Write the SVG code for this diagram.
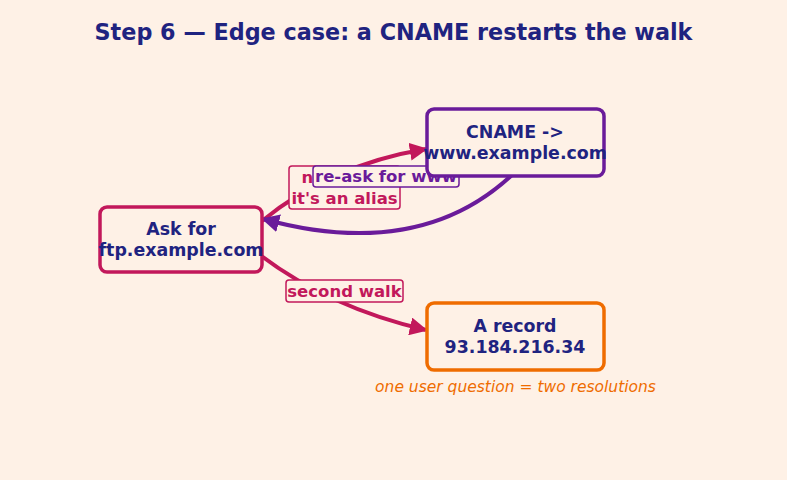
<svg xmlns="http://www.w3.org/2000/svg" width="787" height="480" viewBox="0 0 787 480">
<defs>
<style>
.t{font-family:"DejaVu Sans",sans-serif;font-weight:bold;text-anchor:middle}
.nt{font-size:17.4px;fill:#1f2380}
.node{fill:#fef1e6;stroke-width:3.5}
.edge{fill:none;stroke-width:4}
.lb{fill:#fef1e6;stroke-width:1.5}
.lt{font-size:16.5px}
</style>
<marker id="ac" viewBox="0 0 10 10" refX="9" refY="5" markerWidth="4.5" markerHeight="4.5" orient="auto" markerUnits="strokeWidth"><path d="M0,0 L10,5 L0,10 Z" fill="#c2185b"/></marker>
<marker id="ap" viewBox="0 0 10 10" refX="9" refY="5" markerWidth="4.5" markerHeight="4.5" orient="auto" markerUnits="strokeWidth"><path d="M0,0 L10,5 L0,10 Z" fill="#6a1b9a"/></marker>
</defs>
<rect width="787" height="480" fill="#fef1e6"/>
<text class="t" x="393.5" y="40" font-size="22.3" fill="#1f2380">Step 6 — Edge case: a CNAME restarts the walk</text>
<g id="connectors">
<path class="edge" d="M262,221 Q330,165 426,149" stroke="#c2185b" marker-end="url(#ac)"/>
<path class="edge" d="M513,174 Q420,262 263,219" stroke="#6a1b9a" marker-end="url(#ap)"/>
<path class="edge" d="M260,255 Q330,308 426,330" stroke="#c2185b" marker-end="url(#ac)"/>
<g id="label-alias">
<rect class="lb" x="289" y="166" width="111" height="43" rx="3" stroke="#c2185b"/>
<text class="t lt" x="301.5" y="183" fill="#c2185b" style="text-anchor:start">n</text>
<text class="t lt" x="344.5" y="204" fill="#c2185b">it's an alias</text>
</g>
<g id="label-reask">
<rect class="lb" x="313" y="166" width="146" height="21" rx="3" stroke="#6a1b9a"/>
<text class="t lt" x="386" y="182" fill="#6a1b9a">re-ask for www</text>
</g>
<g id="label-second">
<rect class="lb" x="286" y="280" width="117" height="22" rx="3" stroke="#c2185b"/>
<text class="t lt" x="344.5" y="297" fill="#c2185b">second walk</text>
</g>
</g>
<g id="node-ask">
<rect class="node" x="100" y="207" width="162" height="65" rx="7" stroke="#c2185b"/>
<text class="t nt" x="181" y="235">Ask for</text>
<text class="t nt" x="181" y="256">ftp.example.com</text>
</g>
<g id="node-cname">
<rect class="node" x="427" y="109" width="177" height="67" rx="7" stroke="#6a1b9a"/>
<text class="t nt" x="515" y="138">CNAME -&gt;</text>
<text class="t nt" x="515" y="159">www.example.com</text>
</g>
<g id="node-a">
<rect class="node" x="427" y="303" width="177" height="67" rx="7" stroke="#ef6c00"/>
<text class="t nt" x="515" y="332">A record</text>
<text class="t nt" x="515" y="353">93.184.216.34</text>
</g>
<text x="515.5" y="392" font-family="DejaVu Sans,sans-serif" font-style="italic" font-size="15.5" fill="#ef6c00" text-anchor="middle">one user question = two resolutions</text>
</svg>
